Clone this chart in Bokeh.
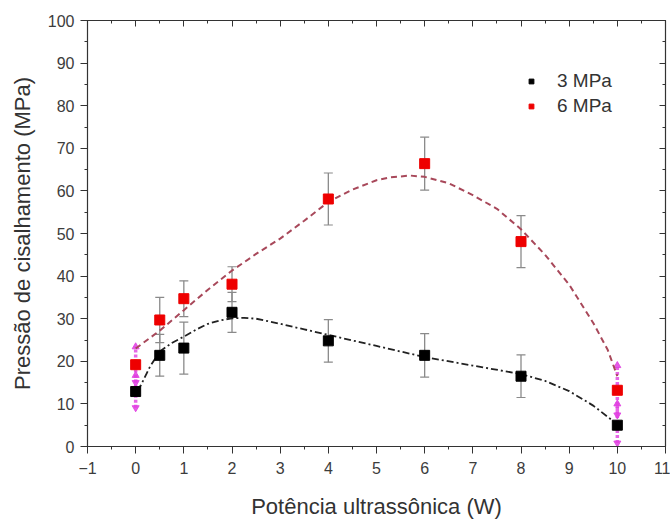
from bokeh.plotting import figure
from bokeh.models import (ColumnDataSource, Whisker, TeeHead, LinearAxis, Range1d,
                          SingleIntervalTicker, Legend, LegendItem)
from bokeh.embed import file_html
from bokeh.resources import INLINE

# ---------------- data ----------------
power = [0, 0.5, 1, 2, 4, 6, 8, 10]
shear_3mpa = [12.9, 21.4, 23.1, 31.5, 24.8, 21.4, 16.5, 5.0]
err_3mpa = [3.8, 4.9, 6.1, 4.7, 5.0, 5.1, 5.0, 5.0]
shear_6mpa = [19.2, 29.7, 34.7, 38.1, 58.1, 66.4, 48.1, 13.2]
err_6mpa = [4.2, 5.3, 4.2, 4.1, 6.1, 6.2, 6.1, 5.8]

fit_x_3mpa = [0, 0.1, 0.3, 0.5, 0.75, 1, 1.25, 1.5, 1.75, 2, 2.25, 2.5, 3, 3.5, 4, 5, 6,
              7, 8, 8.5, 9, 9.5, 10]
fit_y_3mpa = [13.5, 14.2, 18.8, 22.3, 24.3, 25.8, 27.4, 28.8, 29.6, 30.1, 30.2, 30.0,
              28.8, 27.5, 26.2, 23.6, 21.0, 19.0, 17.0, 15.4, 13.0, 9.6, 5.2]
fit_x_6mpa = [0, 0.5, 1, 1.5, 2, 2.5, 3, 3.5, 4, 4.5, 5, 5.3, 5.7, 6, 6.5, 7, 7.5, 8,
              8.5, 9, 9.5, 9.8, 10]
fit_y_6mpa = [23.0, 27.2, 32.0, 36.8, 41.3, 45.2, 48.8, 53.0, 57.4, 60.3, 62.5, 63.2,
              63.6, 63.3, 61.8, 59.0, 55.8, 51.0, 45.0, 38.0, 29.0, 22.7, 16.5]

x_label = "Potência ultrassônica (W)"
y_label = "Pressão de cisalhamento (MPa)"
series_names = ["3 MPa", "6 MPa"]

FONT = "Liberation Sans"

p = figure(width=670, height=521, output_backend="svg", toolbar_location=None,
           x_range=Range1d(-1, 11), y_range=Range1d(0, 100),
           min_border_left=87, min_border_right=5, min_border_top=20, min_border_bottom=74)
p.xgrid.visible = False
p.ygrid.visible = False
p.outline_line_color = "#333333"
p.outline_line_width = 1.2
p.background_fill_color = "white"
p.border_fill_color = "white"

p.xaxis.ticker = SingleIntervalTicker(interval=1, num_minor_ticks=2)
p.yaxis.ticker = SingleIntervalTicker(interval=10, num_minor_ticks=2)
for ax in (p.xaxis[0], p.yaxis[0]):
    ax.axis_line_color = "#333333"
    ax.major_tick_line_color = "#333333"
    ax.minor_tick_line_color = "#333333"
    ax.major_tick_out = 7
    ax.major_tick_in = 0
    ax.minor_tick_out = 3
    ax.minor_tick_in = 0
    ax.major_label_text_font = FONT
    ax.major_label_text_font_size = "16px"
    ax.major_label_text_color = "#3c3c3c"
    ax.axis_label_text_font = FONT
    ax.axis_label_text_font_size = "22px"
    ax.axis_label_text_font_style = "normal"
    ax.axis_label_text_color = "#333333"
p.xaxis.axis_label = x_label
p.yaxis.axis_label = y_label
p.xaxis.major_label_standoff = 8
p.xaxis.axis_label_standoff = 17
p.yaxis.major_label_standoff = 6
p.yaxis.axis_label_standoff = 10

# mirror axes top and right with inward ticks, no labels
top = LinearAxis(ticker=SingleIntervalTicker(interval=1, num_minor_ticks=2))
right = LinearAxis(ticker=SingleIntervalTicker(interval=10, num_minor_ticks=2))
for ax in (top, right):
    ax.major_tick_in = 6
    ax.major_tick_out = 0
    ax.minor_tick_in = 3
    ax.minor_tick_out = 0
    ax.major_label_text_font_size = "1px"
    ax.major_label_text_color = None
    ax.major_label_standoff = 0
    ax.axis_line_color = "#333333"
    ax.major_tick_line_color = "#333333"
    ax.minor_tick_line_color = "#333333"
p.add_layout(top, "above")
p.add_layout(right, "right")

# error bars (regular: grey; end points: magenta dotted with arrow heads)
n = len(power)
ends = [0, n - 1]
mid = [i for i in range(n) if i not in ends]

for ys, es in ((shear_3mpa, err_3mpa), (shear_6mpa, err_6mpa)):
    src = ColumnDataSource(dict(
        x=[power[i] for i in mid],
        lo=[ys[i] - es[i] for i in mid],
        hi=[ys[i] + es[i] for i in mid]))
    w = Whisker(source=src, base="x", lower="lo", upper="hi", dimension="height",
                line_color="#8a8a8a", line_width=1.3,
                upper_head=TeeHead(size=9, line_color="#8a8a8a", line_width=1.2),
                lower_head=TeeHead(size=9, line_color="#8a8a8a", line_width=1.2))
    p.add_layout(w)

for ys, es in ((shear_3mpa, err_3mpa), (shear_6mpa, err_6mpa)):
    ex = [power[i] for i in ends]
    lo = [max(ys[i] - es[i], 0.8) for i in ends]
    hi = [ys[i] + es[i] for i in ends]
    p.segment(x0=ex, y0=lo, x1=ex, y1=hi, line_color="#e040e0", line_width=3.5,
              line_dash="3 2", line_alpha=0.8)
    p.scatter(x=ex, y=hi, marker="triangle", size=7, fill_color="#e040e0",
              line_color="#e040e0", alpha=0.85)
    p.scatter(x=ex, y=lo, marker="inverted_triangle", size=7, fill_color="#e040e0",
              line_color="#e040e0", alpha=0.85)

# fitted curves
p.line(fit_x_6mpa, fit_y_6mpa, line_color="#a8485a", line_width=2, line_dash="6 4")
p.line(fit_x_3mpa, fit_y_3mpa, line_color="#222222", line_width=1.8, line_dash="7 3 2 3")

# markers
r3 = p.scatter(power, shear_3mpa, marker="square", size=10, fill_color="#000000",
               line_color="#000000")
r6 = p.scatter(power, shear_6mpa, marker="square", size=10, fill_color="#ee0000",
               line_color="#ee0000")

legend = Legend(items=[LegendItem(label=series_names[0], renderers=[r3]),
                       LegendItem(label=series_names[1], renderers=[r6])],
                location=(438, 329), orientation="vertical",
                padding=0, margin=0, spacing=3,
                glyph_width=12, glyph_height=20, label_height=20,
                label_standoff=20,
                label_text_font=FONT, label_text_font_size="19px",
                label_text_color="#333333",
                border_line_color=None, background_fill_alpha=0)
p.add_layout(legend)

open("out.html", "w").write(file_html(p, INLINE))
